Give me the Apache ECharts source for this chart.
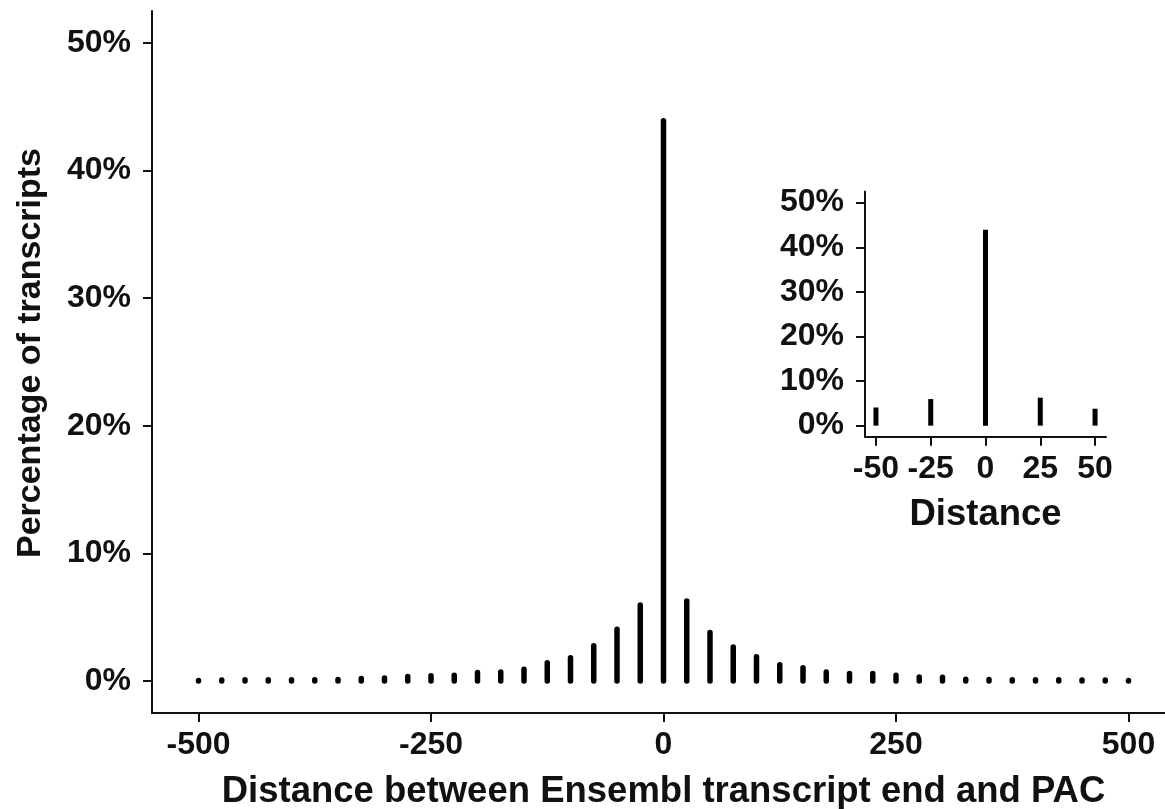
<!DOCTYPE html>
<html>
<head>
<meta charset="utf-8">
<script src="https://cdn.jsdelivr.net/npm/echarts@6/dist/echarts.min.js"></script>
<style>
  html, body { margin: 0; padding: 0; background: #ffffff; }
  #chart { width: 1165px; height: 809px; }
</style>
</head>
<body>
<div id="chart"></div>
<script>
// distance between Ensembl transcript end and PAC (bins of 25)
var distances = [-500, -475, -450, -425, -400, -375, -350, -325, -300, -275, -250,
  -225, -200, -175, -150, -125, -100, -75, -50, -25, 0,
  25, 50, 75, 100, 125, 150, 175, 200, 225, 250,
  275, 300, 325, 350, 375, 400, 425, 450, 475, 500];
// percentage of transcripts in each bin
var percents = [0.05, 0.08, 0.1, 0.1, 0.1, 0.1, 0.12, 0.2, 0.25, 0.35, 0.41,
  0.46, 0.67, 0.72, 0.93, 1.43, 1.82, 2.76, 4.07, 5.96, 43.9,
  6.27, 3.8, 2.68, 1.9, 1.29, 1.04, 0.72, 0.59, 0.59, 0.46,
  0.33, 0.3, 0.15, 0.12, 0.1, 0.1, 0.1, 0.08, 0.08, 0.05];

var mainXTicks = [-500, -250, 0, 250, 500];
var insetXTicks = [-50, -25, 0, 25, 50];
var yTicks = [0, 10, 20, 30, 40, 50];

var mainData = [];
var insetData = [];
for (var i = 0; i < distances.length; i++) {
  mainData.push([distances[i], percents[i]]);
  if (distances[i] >= -50 && distances[i] <= 50) insetData.push([distances[i], percents[i]]);
}

var FONT = 'Liberation Sans';
var INK = '#111111';

function stem(width, cap) {
  return function (params, api) {
    var p0 = api.coord([api.value(0), 0]);
    var p1 = api.coord([api.value(0), api.value(1)]);
    return {
      type: 'line',
      shape: { x1: p0[0], y1: p0[1], x2: p1[0], y2: p1[1] },
      style: { stroke: '#000', lineWidth: width, lineCap: cap }
    };
  };
}

function xAxisCfg(idx, min, max, ticks, name, gap) {
  return {
    type: 'value', gridIndex: idx, min: min, max: max,
    splitLine: { show: false },
    axisLine: { show: true, onZero: false, lineStyle: { color: INK, width: 2 } },
    axisTick: { show: true, customValues: ticks, length: 9, lineStyle: { color: INK, width: 2 } },
    axisLabel: { customValues: ticks, margin: 16, color: INK, fontFamily: FONT, fontWeight: 'bold', fontSize: 32 },
    name: name, nameLocation: 'middle', nameGap: gap,
    nameTextStyle: { color: INK, fontFamily: FONT, fontWeight: 'bold', fontSize: 36.5 }
  };
}

function yAxisCfg(idx, name, gap) {
  return {
    type: 'value', gridIndex: idx, min: -2.5, max: 52.5,
    splitLine: { show: false },
    axisLine: { show: true, onZero: false, lineStyle: { color: INK, width: 2 } },
    axisTick: { show: true, customValues: yTicks, length: 9, lineStyle: { color: INK, width: 2 } },
    axisLabel: { customValues: yTicks, margin: 21, color: INK, fontFamily: FONT, fontWeight: 'bold', fontSize: 32,
      formatter: function (v) { return v + '%'; } },
    name: name, nameLocation: 'middle', nameGap: gap,
    nameTextStyle: { color: INK, fontFamily: FONT, fontWeight: 'bold', fontSize: 34, padding: [0, 0, 0, 18] }
  };
}

var chart = echarts.init(document.getElementById('chart'));
chart.setOption({
  backgroundColor: '#ffffff',
  animation: false,
  grid: [
    { left: 152, top: 11, width: 1023, height: 702, containLabel: false, outerBoundsMode: 'none' },
    { left: 865, top: 191.5, width: 241, height: 245.3, containLabel: false, outerBoundsMode: 'none' }
  ],
  xAxis: [
    xAxisCfg(0, -550, 550, mainXTicks, 'Distance between Ensembl transcript end and PAC', 60),
    xAxisCfg(1, -55, 55, insetXTicks, 'Distance', 60)
  ],
  yAxis: [
    yAxisCfg(0, 'Percentage of transcripts', 104),
    yAxisCfg(1, '', 0)
  ],
  series: [
    { type: 'custom', xAxisIndex: 0, yAxisIndex: 0, data: mainData, renderItem: stem(5.5, 'round') },
    { type: 'custom', xAxisIndex: 1, yAxisIndex: 1, data: insetData, renderItem: stem(5, 'butt') }
  ]
});
</script>
</body>
</html>
